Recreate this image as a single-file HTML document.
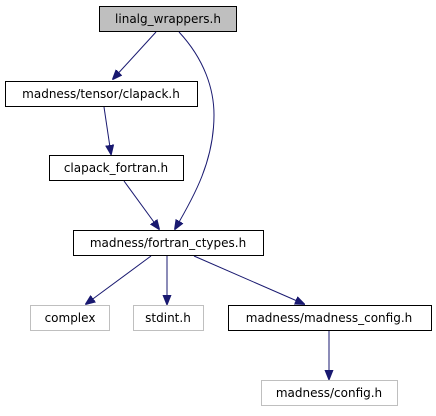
<!DOCTYPE html>
<html><head><style>
body{margin:0;background:#fff;width:436px;height:411px;overflow:hidden}
svg text{font-family:"DejaVu Sans",sans-serif;font-size:12px;text-anchor:middle}
</style></head><body>
<svg width="436" height="411" xmlns="http://www.w3.org/2000/svg">
<defs><marker id="a" markerWidth="10" markerHeight="10" refX="9" refY="5" orient="auto" markerUnits="userSpaceOnUse"><path d="M0,1 L10,5 L0,9 Z" fill="#191970" stroke="#191970"/></marker></defs>
<g fill="none" stroke="#191970" stroke-width="1">
<path d="M156,32 L113,79" marker-end="url(#a)"/>
<path d="M179,32 C205,60 214,90 214,115 C214,160 195,195 175,229" marker-end="url(#a)"/>
<path d="M104,107 L111,154" marker-end="url(#a)"/>
<path d="M124,181 L159,229" marker-end="url(#a)"/>
<path d="M151,256 L86,304" marker-end="url(#a)"/>
<path d="M167,256 L167,304" marker-end="url(#a)"/>
<path d="M194,256 L304,304" marker-end="url(#a)"/>
<path d="M329,331 L329,379" marker-end="url(#a)"/>
</g>
<g stroke-width="1">
<rect x="99.5" y="6.5" width="137" height="25" fill="#bfbfbf" stroke="#000"/>
<rect x="5.5" y="81.5" width="192" height="25" fill="#fff" stroke="#000"/>
<rect x="49.5" y="155.5" width="134" height="25" fill="#fff" stroke="#000"/>
<rect x="73.5" y="230.5" width="190" height="25" fill="#fff" stroke="#000"/>
<rect x="30.5" y="305.5" width="79" height="25" fill="#fff" stroke="#bfbfbf"/>
<rect x="133.5" y="305.5" width="70" height="25" fill="#fff" stroke="#bfbfbf"/>
<rect x="228.5" y="305.5" width="203" height="25" fill="#fff" stroke="#000"/>
<rect x="261.5" y="380.5" width="136" height="25" fill="#fff" stroke="#bfbfbf"/>
</g>
<text x="168" y="23">linalg_wrappers.h</text>
<text x="101" y="98">madness/tensor/clapack.h</text>
<text x="116" y="172">clapack_fortran.h</text>
<text x="168" y="247">madness/fortran_ctypes.h</text>
<text x="70" y="322">complex</text>
<text x="168" y="322">stdint.h</text>
<text x="329" y="322">madness/madness_config.h</text>
<text x="329" y="397">madness/config.h</text>
</svg>
</body></html>
